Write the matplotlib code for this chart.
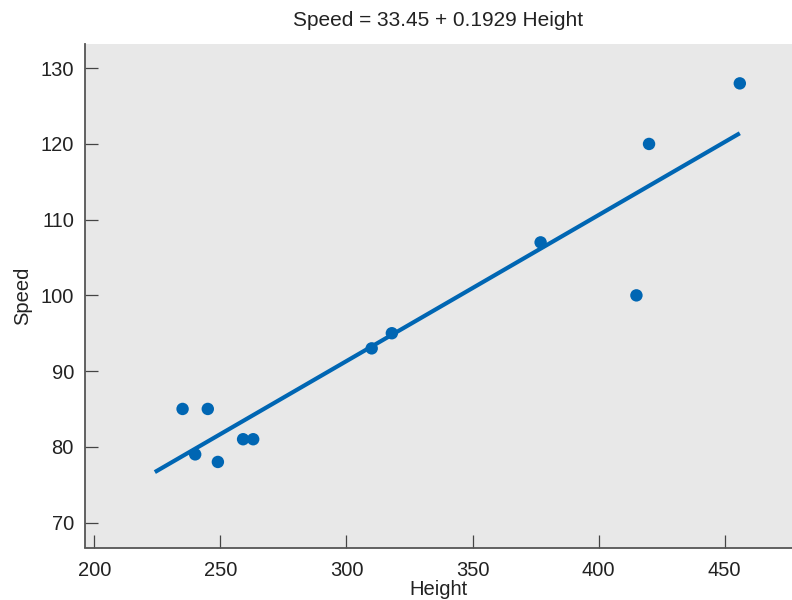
import matplotlib.pyplot as plt
import numpy as np

# data
height = [235, 240, 245, 249, 259, 263, 310, 318, 377, 415, 420, 456]
speed = [85, 79, 85, 78, 81, 81, 93, 95, 107, 100, 120, 128]
intercept = 33.45
slope = 0.1929
line_x = np.array([224, 456])
xticks = [200, 250, 300, 350, 400, 450]
yticks = [70, 80, 90, 100, 110, 120, 130]

blue = '#0066b3'
plt.rcParams['font.family'] = ['Liberation Sans', 'DejaVu Sans']

fig = plt.figure(figsize=(7.92, 6), dpi=100)
ax = fig.add_axes([85 / 792, 1 - 547.5 / 600, 707 / 792, 503.5 / 600])
ax.set_facecolor('#e8e8e8')

ax.plot(line_x, intercept + slope * line_x, color=blue, lw=3, solid_capstyle='butt', zorder=2)
ax.scatter(height, speed, s=80, color=blue, edgecolors='none', zorder=3)

ax.set_xlim(196.3, 476.7)
ax.set_ylim(66.7, 133.2)
ax.set_xticks(xticks)
ax.set_yticks(yticks)

for s in ['top', 'right']:
    ax.spines[s].set_visible(False)
for s in ['left', 'bottom']:
    ax.spines[s].set_color('#555555')
    ax.spines[s].set_linewidth(1.3)

ax.tick_params(direction='in', length=9.5, width=0.9, color='#444444',
               labelsize=14.5, labelcolor='#222222')
ax.tick_params(axis='x', pad=10)
ax.tick_params(axis='y', pad=8)

ax.set_xlabel('Height', fontsize=14.5, color='#222222', labelpad=0)
ax.set_ylabel('Speed', fontsize=14.5, color='#222222', labelpad=6)
ax.set_title('Speed = 33.45 + 0.1929 Height', fontsize=15, color='#222222', pad=13)

fig.savefig('out.png', dpi=100)
